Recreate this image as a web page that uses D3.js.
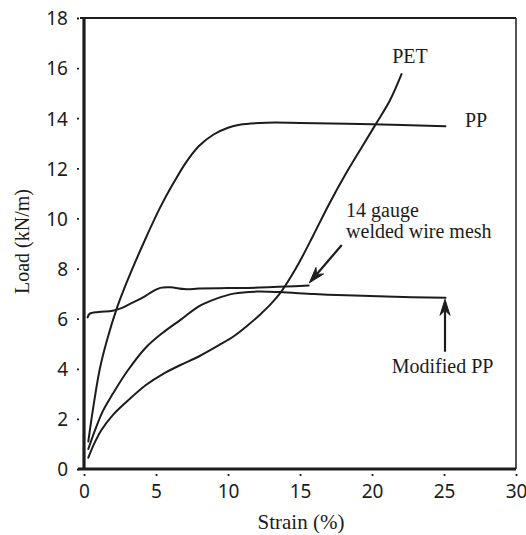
<!DOCTYPE html>
<html>
<head>
<meta charset="utf-8">
<script src="https://cdn.jsdelivr.net/npm/d3@7"></script>
<style>
  body { margin: 0; background: #fff; }
  svg { display: block; }
</style>
</head>
<body>
<div id="graph-wrapper"></div>
<script>
// Load-strain curves, values
const xTicks = [0, 5, 10, 15, 20, 25, 30];
const yTicks = [0, 2, 4, 6, 8, 10, 12, 14, 16, 18];

const ppCurve = [[0.3,1.1],[0.6,2.3],[1.1,4.0],[1.6,5.15],[2.3,6.45],[3.0,7.5],[4.2,9.1],[5.3,10.45],
  [6.2,11.4],[7.1,12.25],[8.0,12.9],[9.0,13.35],[10.0,13.62],[10.8,13.74],[12.7,13.82],
  [15,13.81],[20,13.76],[25.1,13.68]];
const petCurve = [[0.3,0.45],[0.7,1.0],[1.2,1.55],[2.0,2.15],[2.8,2.6],[4.3,3.35],[5.5,3.8],[6.7,4.15],
  [8.0,4.5],[9.4,4.95],[10.4,5.3],[11.3,5.7],[12.2,6.15],[13.0,6.6],[13.7,7.08],[14.4,7.7],[15.0,8.3],
  [15.9,9.3],[17.0,10.55],[18.2,11.8],[19.3,12.85],[20.3,13.8],[21.25,14.72],[22.05,15.76]];
const modPPCurve = [[0.3,0.8],[0.8,1.6],[1.3,2.3],[2.0,3.0],[3.0,3.9],[4.3,4.85],[5.5,5.45],[6.7,5.95],
  [8.0,6.5],[9.2,6.8],[10.4,7.0],[12,7.08],[13.6,7.06],[16,6.98],[18.2,6.93],[21,6.88],[25.1,6.83]];
const meshCurve = [[0.25,6.05],[0.4,6.2],[1,6.27],[2,6.32],[2.6,6.42],[3.3,6.62],[4.1,6.85],[4.8,7.1],
  [5.3,7.23],[6,7.25],[7,7.18],[8,7.2],[10,7.22],[12.2,7.24],[14,7.28],[15.6,7.32]];

// text labels [text, x, y] in data units (baseline)
const labels = [["PET", 21.4, 16.2], ["PP", 26.45, 13.66], ["14 gauge", 18.2, 10.06],
  ["welded wire mesh", 18.2, 9.22], ["Modified PP", 21.37, 3.83]];
// arrows [fromX, fromY, toX, toY]
const arrows = [[17.9, 8.94, 15.65, 7.43], [25.07, 4.68, 25.07, 6.77]];

function draw() {
  const width = 526;
  const height = 535;
  const marginLeft = 84;
  const marginRight = 10;
  const marginTop = 18;
  const marginBottom = 66;

  const x = d3.scaleLinear().domain([0, 30]).range([marginLeft, width - marginRight]);
  const y = d3.scaleLinear().domain([0, 18]).range([height - marginBottom, marginTop]);

  const svg = d3.select("#graph-wrapper").append("svg")
    .attr("width", width)
    .attr("height", height)
    .style("background", "#fff");

  const ink = "#1c1c1c";
  const serif = "'Liberation Serif', 'Times New Roman', serif";
  const sans = "'Noto Sans', 'Open Sans', sans-serif";

  // frame: top and right thin, left and bottom heavy
  svg.append("line").attr("x1", x(0) - 4).attr("x2", x(30)).attr("y1", y(18)).attr("y2", y(18))
    .attr("stroke", ink).attr("stroke-width", 2);
  svg.append("line").attr("x1", x(30)).attr("x2", x(30)).attr("y1", y(18)).attr("y2", y(0))
    .attr("stroke", ink).attr("stroke-width", 1.5);

  // y axis
  const yAxis = svg.append("g")
    .attr("transform", `translate(${x(0)},0)`)
    .call(d3.axisLeft(y).tickValues(yTicks).tickFormat(d3.format("d")));
  yAxis.select(".domain").attr("stroke", ink).attr("stroke-width", 3.2).attr("d", `M0,${y(18)}V${y(0) + 1}`);
  yAxis.selectAll(".tick line").attr("x1", -5).attr("x2", -7).attr("stroke", ink).attr("stroke-width", 1.8);
  yAxis.selectAll(".tick text").attr("x", -16).attr("dy", "0.36em")
    .style("font-family", sans).style("font-size", "19px").attr("fill", ink);

  // x axis
  const xAxis = svg.append("g")
    .attr("transform", `translate(0,${y(0)})`)
    .call(d3.axisBottom(x).tickValues(xTicks).tickFormat(d3.format("d")));
  xAxis.select(".domain").attr("stroke", ink).attr("stroke-width", 3).attr("d", `M${x(0) - 6},0H${x(30)}`);
  xAxis.selectAll(".tick line").attr("y1", 5).attr("y2", 7).attr("stroke", ink).attr("stroke-width", 1.8);
  xAxis.selectAll(".tick text").attr("y", 16).attr("dy", "0.71em")
    .style("font-family", sans).style("font-size", "19px").attr("fill", ink);

  // axis titles
  svg.append("text").text("Strain (%)")
    .attr("x", 301).attr("y", 529).attr("text-anchor", "middle")
    .style("font-family", serif).style("font-size", "21px").attr("fill", ink);
  svg.append("text").text("Load (kN/m)")
    .attr("transform", `translate(29,${(y(0) + y(18)) / 2 - 2}) rotate(-90)`)
    .attr("text-anchor", "middle")
    .style("font-family", serif).style("font-size", "20px").attr("fill", ink);

  // curves
  const line = d3.line().x(d => x(d[0])).y(d => y(d[1])).curve(d3.curveCatmullRom.alpha(0.5));
  [ppCurve, petCurve, modPPCurve, meshCurve].forEach(c => {
    svg.append("path").datum(c).attr("d", line)
      .attr("fill", "none").attr("stroke", ink).attr("stroke-width", 2)
      .attr("stroke-linejoin", "round").attr("stroke-linecap", "round");
  });

  // labels
  svg.selectAll(".lbl").data(labels).join("text").attr("class", "lbl")
    .text(d => d[0]).attr("x", d => x(d[1])).attr("y", d => y(d[2]))
    .style("font-family", serif).style("font-size", "20px").attr("fill", ink);

  // arrows
  arrows.forEach(a => {
    const x0 = x(a[0]), y0 = y(a[1]), x1 = x(a[2]), y1 = y(a[3]);
    const ang = Math.atan2(y1 - y0, x1 - x0);
    const len = 16, half = 5, notch = 11;
    const bx = x1 - len * Math.cos(ang), by = y1 - len * Math.sin(ang);
    const nx = x1 - notch * Math.cos(ang), ny = y1 - notch * Math.sin(ang);
    const px = -Math.sin(ang) * half, py = Math.cos(ang) * half;
    svg.append("line").attr("x1", x0).attr("y1", y0).attr("x2", nx).attr("y2", ny)
      .attr("stroke", ink).attr("stroke-width", 2.2);
    svg.append("path")
      .attr("d", `M${x1},${y1}L${bx + px},${by + py}L${nx},${ny}L${bx - px},${by - py}Z`)
      .attr("fill", ink).attr("stroke", ink).attr("stroke-width", 1).attr("stroke-linejoin", "round");
  });
}

if (document.readyState !== 'loading') {
  draw();
} else { document.addEventListener("DOMContentLoaded", () => draw()) }
</script>
</body>
</html>
